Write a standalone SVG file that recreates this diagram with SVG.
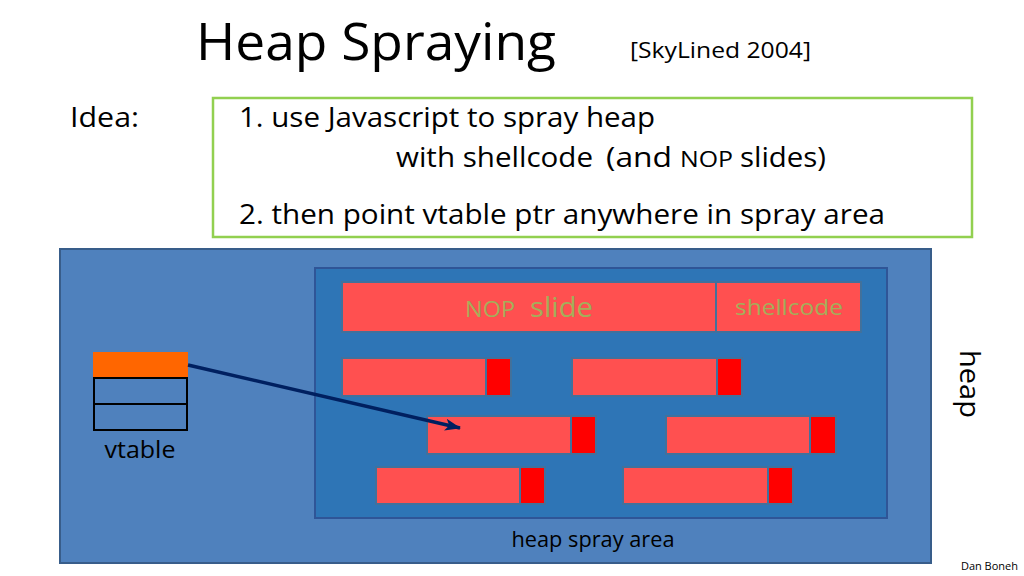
<svg xmlns="http://www.w3.org/2000/svg" width="1024" height="576" viewBox="0 0 1024 576">
<defs>
<style>
text{font-family:"Open Sans","Noto Sans","Liberation Sans",sans-serif;fill:#000}
.bar{fill:#FF5050;stroke:#41719C;stroke-width:2}
.cap{fill:#FF0000;stroke:#41719C;stroke-width:2}
.lbl{fill:#A4AE5A}
</style>
<marker id="ah" viewBox="0 0 16 12" refX="15" refY="6" markerWidth="16" markerHeight="12" orient="auto" markerUnits="userSpaceOnUse">
<path d="M0,0 L16,6 L0,12 L4,6 z" fill="#002060"/>
</marker>
</defs>
<rect width="1024" height="576" fill="#fff"/>
<g id="title">
<text x="196" y="60" font-size="52" textLength="360" lengthAdjust="spacingAndGlyphs">Heap Spraying</text>
<text x="630" y="58" font-size="22" textLength="181" lengthAdjust="spacingAndGlyphs">[SkyLined 2004]</text>
</g>
<g id="idea">
<text x="70" y="127" font-size="27" textLength="69" lengthAdjust="spacingAndGlyphs">Idea:</text>
<rect x="213" y="98" width="759" height="139" fill="#fff" stroke="#92D050" stroke-width="2.5"/>
<text x="239" y="127" font-size="27" textLength="416" lengthAdjust="spacingAndGlyphs">1. use Javascript to spray heap</text>
<text x="396" y="167" font-size="27" textLength="197" lengthAdjust="spacingAndGlyphs">with shellcode</text>
<text x="606" y="167" font-size="27" textLength="66" lengthAdjust="spacingAndGlyphs">(and</text>
<text x="680" y="167" font-size="21" textLength="53" lengthAdjust="spacingAndGlyphs">NOP</text>
<text x="740" y="167" font-size="27" textLength="86" lengthAdjust="spacingAndGlyphs">slides)</text>
<text x="239" y="224" font-size="27" textLength="646" lengthAdjust="spacingAndGlyphs">2. then point vtable ptr anywhere in spray area</text>
</g>
<g id="heap">
<rect x="60" y="249" width="871" height="314" fill="#4F81BD" stroke="#385D8A" stroke-width="2"/>
<text transform="translate(960,350) rotate(90)" font-size="27" textLength="68" lengthAdjust="spacingAndGlyphs">heap</text>
</g>
<g id="spray-area">
<rect x="315" y="268" width="572" height="250" fill="#2E75B6" stroke="#2F5597" stroke-width="2"/>
<text x="593" y="547" font-size="22" text-anchor="middle" textLength="163" lengthAdjust="spacingAndGlyphs">heap spray area</text>
</g>
<g id="nop-slide">
<rect class="bar" x="342" y="282" width="374" height="50"/>
<text class="lbl" x="465" y="317" font-size="22" textLength="50" lengthAdjust="spacingAndGlyphs">NOP</text>
<text class="lbl" x="530" y="317" font-size="28" textLength="63" lengthAdjust="spacingAndGlyphs">slide</text>
</g>
<g id="shellcode">
<rect class="bar" x="716" y="282" width="145" height="50"/>
<text class="lbl" x="789" y="315" font-size="22" text-anchor="middle" textLength="108" lengthAdjust="spacingAndGlyphs">shellcode</text>
</g>
<g id="block1"><rect class="bar" x="342" y="358" width="144" height="38"/><rect class="cap" x="486" y="358" width="25" height="38"/></g>
<g id="block2"><rect class="bar" x="572" y="358" width="145" height="38"/><rect class="cap" x="717" y="358" width="25" height="38"/></g>
<g id="block3"><rect class="bar" x="427" y="416" width="144" height="38"/><rect class="cap" x="571" y="416" width="25" height="38"/></g>
<g id="block4"><rect class="bar" x="666" y="416" width="144" height="38"/><rect class="cap" x="810" y="416" width="26" height="38"/></g>
<g id="block5"><rect class="bar" x="376" y="467" width="144" height="37"/><rect class="cap" x="520" y="467" width="25" height="37"/></g>
<g id="block6"><rect class="bar" x="623" y="467" width="145" height="37"/><rect class="cap" x="768" y="467" width="25" height="37"/></g>
<g id="vtable">
<rect x="93" y="352" width="95" height="26" fill="#FF6600"/>
<rect x="94" y="378" width="93" height="26" fill="none" stroke="#000" stroke-width="2"/>
<rect x="94" y="404" width="93" height="26" fill="none" stroke="#000" stroke-width="2"/>
<text x="140" y="458" font-size="24" text-anchor="middle" textLength="71" lengthAdjust="spacingAndGlyphs">vtable</text>
</g>
<g id="connectors">
<line x1="188" y1="365" x2="460" y2="428" stroke="#002060" stroke-width="3.5" marker-end="url(#ah)"/>
</g>
<text x="1018" y="570" font-size="11" text-anchor="end">Dan Boneh</text>
</svg>
